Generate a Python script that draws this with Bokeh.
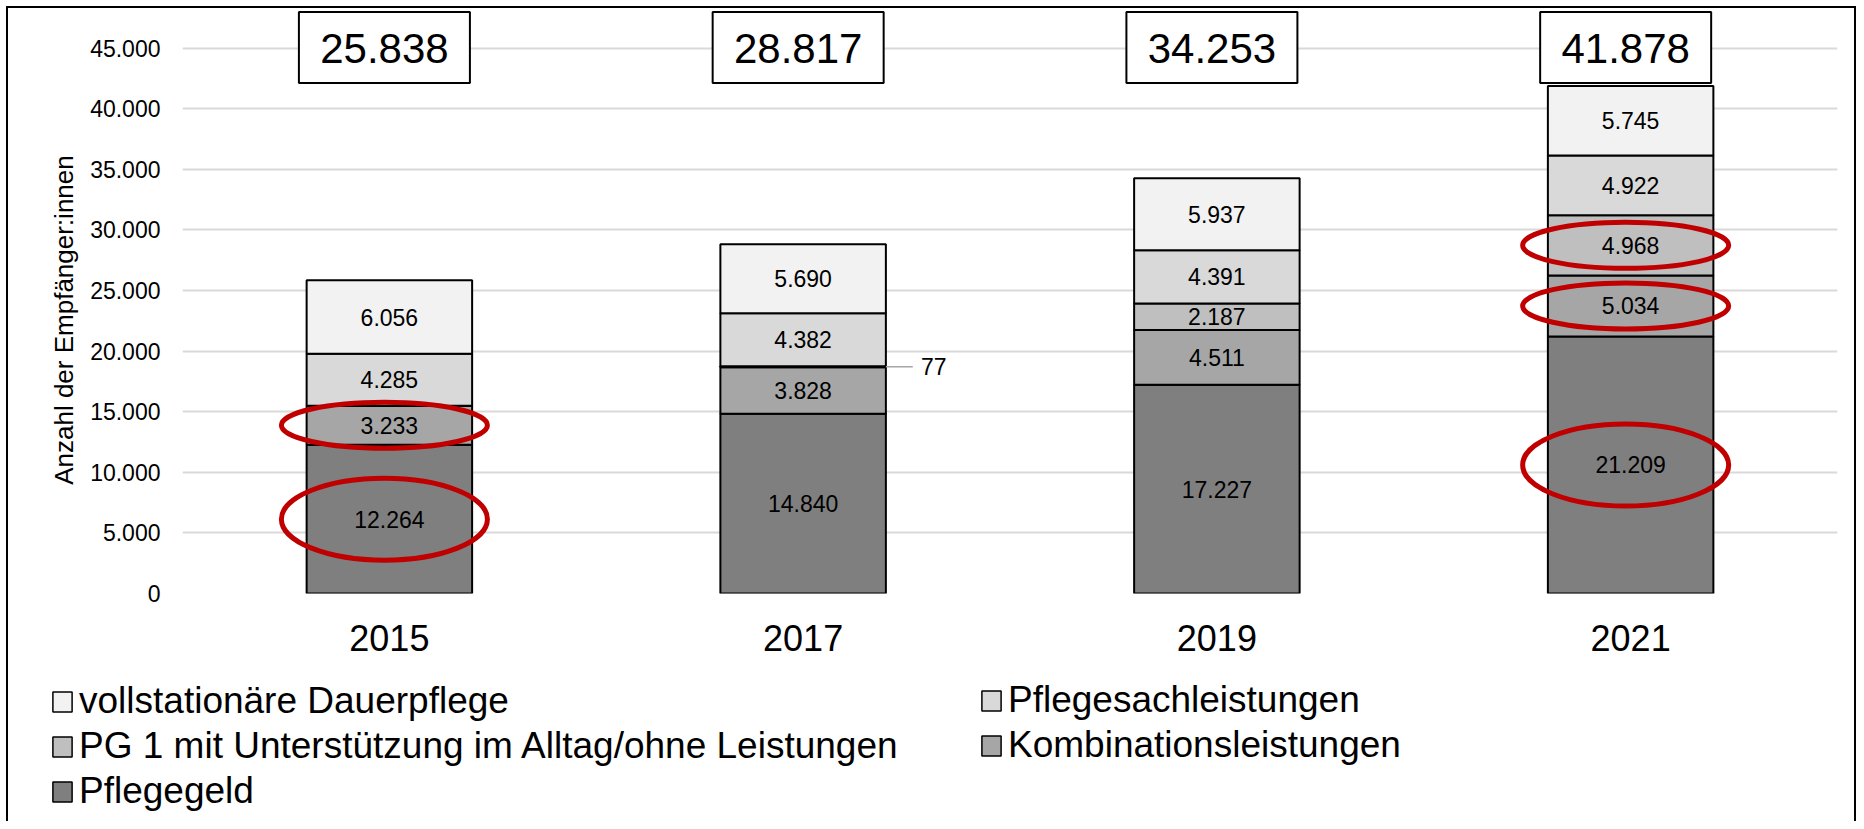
from bokeh.plotting import figure
from bokeh.layouts import column
from bokeh.models import (ColumnDataSource, FactorRange, Range1d, Legend, LegendItem,
                          CustomJSTickFormatter, SingleIntervalTicker)
from bokeh.core.properties import value
from bokeh.transform import dodge
from bokeh.embed import file_html
from bokeh.resources import INLINE

# ---------------- data ----------------
years = ["2015", "2017", "2019", "2021"]
pflegegeld = [12264, 14840, 17227, 21209]
kombinationsleistungen = [3233, 3828, 4511, 5034]
pg1_alltag = [0, 77, 2187, 4968]
pflegesachleistungen = [4285, 4382, 4391, 4922]
vollstationaer = [6056, 5690, 5937, 5745]

series_keys = ["pflegegeld", "kombi", "pg1", "sach", "voll"]
series_labels = ["Pflegegeld", "Kombinationsleistungen",
                 "PG 1 mit Unterstützung im Alltag/ohne Leistungen",
                 "Pflegesachleistungen", "vollstationäre Dauerpflege"]
series_values = [pflegegeld, kombinationsleistungen, pg1_alltag,
                 pflegesachleistungen, vollstationaer]
colors = ["#7f7f7f", "#a6a6a6", "#bfbfbf", "#d9d9d9", "#f2f2f2"]

# segments circled in red in the original
highlights = [("2015", "kombi"), ("2015", "pflegegeld"),
              ("2021", "pg1"), ("2021", "kombi"), ("2021", "pflegegeld")]

y_axis_title = "Anzahl der Empfänger:innen"

FONT = "Liberation Sans"
W = 1862
H1 = 672
H2 = 157


def de(n):
    return f"{n:,}".replace(",", ".")


# ---------------- derived tables ----------------
src = ColumnDataSource(dict(year=years, **{k: v for k, v in zip(series_keys, series_values)}))
totals = [sum(s[i] for s in series_values) for i in range(len(years))]

mids = {}
in_x, in_y, in_t = [], [], []
out_x, out_y, out_t = [], [], []
for i, yr in enumerate(years):
    base = 0
    for k, vals in zip(series_keys, series_values):
        v = vals[i]
        mid = base + v / 2
        mids[(yr, k)] = mid
        if v >= 1000:
            in_x.append(yr); in_y.append(mid); in_t.append(de(v))
        elif v > 0:
            out_x.append(yr); out_y.append(mid); out_t.append(de(v))
        base += v

hl_x = [h[0] for h in highlights]
hl_y = [mids[h] for h in highlights]
hl_h = [82 if h[1] == "pflegegeld" else 46 for h in highlights]

# ---------------- chart ----------------
p = figure(width=W, height=H1, x_range=FactorRange(factors=years),
           y_range=Range1d(0, 48100), output_backend="svg", toolbar_location=None,
           min_border_left=182, min_border_right=W - 1837, min_border_top=10,
           min_border_bottom=H1 - 593)
p.frame_align = False
p.outline_line_color = None
p.border_fill_color = None
p.background_fill_color = None

p.xgrid.grid_line_color = None
p.ygrid.grid_line_color = "#d9d9d9"
p.ygrid.grid_line_width = 2

yax = p.yaxis[0]
yax.ticker = SingleIntervalTicker(interval=5000)
yax.formatter = CustomJSTickFormatter(
    code="return Math.round(tick).toString().replace(/\\B(?=(\\d{3})+(?!\\d))/g, '.');")
yax.axis_line_color = None
yax.major_tick_line_color = None
yax.minor_tick_line_color = None
yax.major_tick_out = 0
yax.major_tick_in = 0
yax.minor_tick_out = 0
yax.minor_tick_in = 0
yax.major_label_text_font = FONT
yax.major_label_text_font_size = "23px"
yax.major_label_text_color = "#000000"
yax.major_label_standoff = 22
# trailing no-break spaces centre the title on the 0-45.000 span, as in the original
yax.axis_label = y_axis_title + "\u00a0" * 5
yax.axis_label_text_font = FONT
yax.axis_label_text_font_size = "26px"
yax.axis_label_text_font_style = "normal"
yax.axis_label_text_color = "#000000"
yax.axis_label_standoff = 8

xax = p.xaxis[0]
xax.axis_line_color = None
xax.major_tick_line_color = None
xax.minor_tick_line_color = None
xax.major_tick_out = 0
xax.major_tick_in = 0
xax.major_label_text_font = FONT
xax.major_label_text_font_size = "36px"
xax.major_label_text_color = "#000000"
xax.major_label_standoff = 31

rs = p.vbar_stack(series_keys, x="year", width=0.4, source=src,
                  fill_color=colors, line_color="black", line_width=2)

# segment labels
p.text(x=in_x, y=in_y, text=in_t, text_font=value(FONT), text_font_size="23px",
       text_align="center", text_baseline="middle", text_color="#000000")

# small-value label with leader line
small = ColumnDataSource(dict(x=out_x, y=out_y, t=out_t))
p.segment(x0=dodge("x", 0.2, range=p.x_range), y0="y",
          x1=dodge("x", 0.265, range=p.x_range), y1="y",
          line_color="#a6a6a6", line_width=1.5, source=small)
p.text(x=dodge("x", 0.285, range=p.x_range), y="y", text="t", source=small,
       text_font=value(FONT), text_font_size="23px", text_align="left",
       text_baseline="middle", text_color="#000000")

# totals in boxes
tot = ColumnDataSource(dict(x=years, t=[de(t) for t in totals]))
BOX_Y = 45050
p.rect(x=dodge("x", -0.012, range=p.x_range), y=BOX_Y, width=171, height=71,
       width_units="screen", height_units="screen", fill_color="white",
       line_color="black", line_width=2, source=tot)
p.text(x=dodge("x", -0.012, range=p.x_range), y=BOX_Y - 100, text="t", source=tot,
       text_font=value(FONT), text_font_size="42px", text_align="center",
       text_baseline="middle", text_color="#000000")

# red ellipses
hl = ColumnDataSource(dict(x=hl_x, y=hl_y, h=hl_h))
p.ellipse(x=dodge("x", -0.012, range=p.x_range), y="y", width=206, height="h",
          width_units="screen", height_units="screen", fill_alpha=0,
          line_color="#c00000", line_width=5, source=hl)

# ---------------- legend panel ----------------
q = figure(width=W, height=H2, x_range=Range1d(0, W), y_range=Range1d(0, H2),
           x_axis_type=None, y_axis_type=None, output_backend="svg",
           toolbar_location=None, min_border=0, min_border_left=0,
           min_border_right=0, min_border_top=0, min_border_bottom=0)
q.frame_align = False
q.outline_line_color = None
q.border_fill_color = None
q.background_fill_color = None
q.xgrid.grid_line_color = None
q.ygrid.grid_line_color = None

lab = dict(zip(series_keys, series_labels))
col = dict(zip(series_keys, colors))
# legend proxies (placed outside the visible range)
ren = {k: q.vbar(x=[-500], top=[-500], bottom=[-501], width=1, fill_color=col[k],
                 line_color="black", line_width=1.5) for k in series_keys}

leg_style = dict(label_text_font=FONT, label_text_font_size="37px",
                 label_text_color="#000000", glyph_width=24, glyph_height=25,
                 label_standoff=5, spacing=3, padding=0, margin=0,
                 border_line_color=None, background_fill_alpha=0,
                 orientation="vertical")
leg1 = Legend(items=[LegendItem(label=lab[k], renderers=[ren[k]]) for k in ["voll", "pg1", "pflegegeld"]],
              location=(50, 17), **leg_style)
leg2 = Legend(items=[LegendItem(label=lab[k], renderers=[ren[k]]) for k in ["sach", "kombi"]],
              location=(979, 63), **leg_style)
q.add_layout(leg1, "center")
q.add_layout(leg2, "center")

layout = column(p, q, spacing=0,
                styles={"outline": "2px solid #000000", "outline-offset": "-8px",
                        "clip-path": "inset(0px 0px 8px 0px)"})

open("out.html", "w").write(file_html(layout, INLINE))
